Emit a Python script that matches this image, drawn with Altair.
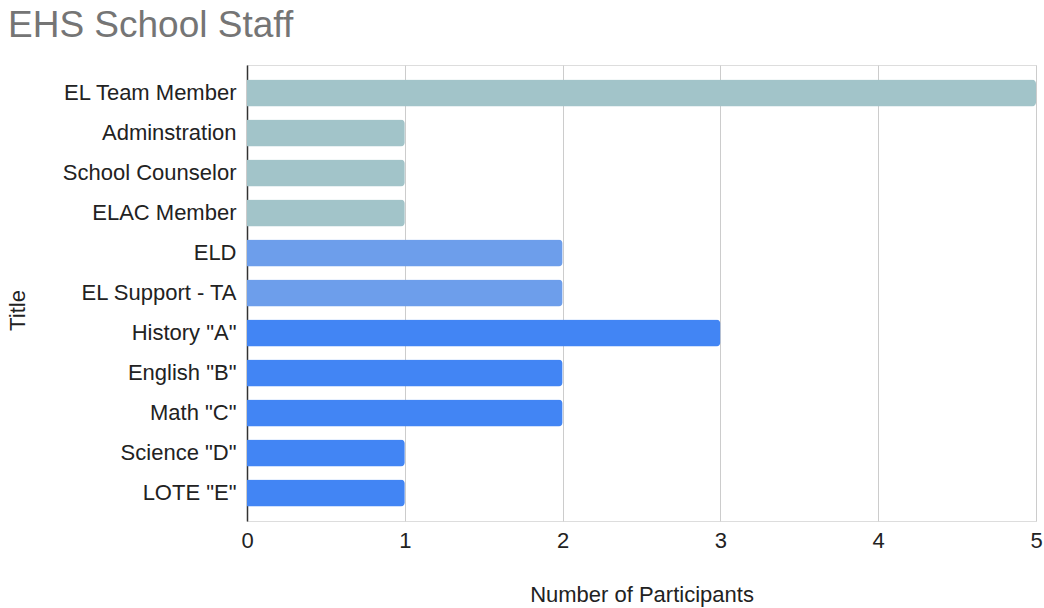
import altair as alt
import pandas as pd

titles = ["EL Team Member", "Adminstration", "School Counselor", "ELAC Member",
          "ELD", "EL Support - TA", 'History "A"', 'English "B"', 'Math "C"',
          'Science "D"', 'LOTE "E"']
participants = [5, 1, 1, 1, 2, 2, 3, 2, 2, 1, 1]
groups = ["staff", "staff", "staff", "staff", "support", "support",
          "content", "content", "content", "content", "content"]
group_domain = ["staff", "support", "content"]
group_colors = ["#a2c4c9", "#6d9eeb", "#4285f4"]
x_ticks = [0, 1, 2, 3, 4, 5]

df = pd.DataFrame({"Title": titles, "Participants": participants, "Group": groups})

FONT = "Liberation Sans"

chart = alt.Chart(df).mark_bar(cornerRadiusEnd=4).encode(
    y=alt.Y("Title:N", sort=None,
            scale=alt.Scale(paddingInner=0.325, paddingOuter=0.36),
            axis=alt.Axis(title="Title", ticks=False, grid=False, labelFont=FONT,
                          labelFontSize=22, labelColor="#222222", labelPadding=11,
                          domainColor="#333333", domainWidth=1.5,
                          titleFont=FONT, titleFontSize=22, titleFontWeight="normal",
                          titleColor="#222222", titleAngle=270, titleX=-230, titleY=245,
                          titleAlign="center", titleBaseline="middle")),
    x=alt.X("Participants:Q", scale=alt.Scale(domain=[0, 5], nice=False),
            axis=alt.Axis(title="Number of Participants", values=x_ticks, format="d",
                          ticks=False, domain=False, grid=True, gridColor="#cccccc",
                          gridWidth=1, labelFont=FONT, labelFontSize=22, labelFlush=False,
                          labelColor="#222222", labelPadding=9,
                          titleFont=FONT, titleFontSize=22, titleFontWeight="normal",
                          titleColor="#222222", titlePadding=33)),
    color=alt.Color("Group:N", scale=alt.Scale(domain=group_domain, range=group_colors),
                    legend=None),
).properties(
    width=789, height=456,
    autosize=alt.AutoSizeParams(type="none"),
    padding={"left": 247, "top": 65, "right": 8, "bottom": 87},
    title=alt.TitleParams("EHS School Staff", anchor="start", frame="group", dx=-239,
                          dy=39, offset=30, baseline="alphabetic", font=FONT, fontSize=37,
                          fontWeight="normal", color="#757575"),
).configure_view(stroke=None).configure(background="white")

chart.save("out.html", embed_options={"renderer": "svg", "actions": False})
